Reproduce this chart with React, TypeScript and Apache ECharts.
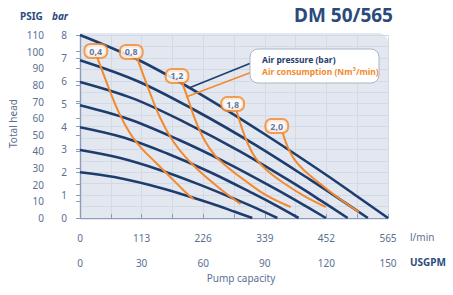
import React, { useEffect, useRef } from "react";
import * as echarts from "echarts";

const NAVY = "#1e3d6f";
const ORANGE = "#f28a2e";
const LABEL = "#5b6f93";
const AXIS = "#8d9cb8";

// Air pressure curves (bar) : [l/min, bar]
const p8: number[][] = [[0, 8], [113, 6.84], [226, 5.34], [339, 3.66], [452, 1.88], [508, 0.95], [565, 0]];
const p7: number[][] = [[0, 6.9], [106, 5.98], [211, 4.71], [317, 3.26], [422, 1.68], [475, 0.85], [528, 0]];
const p6: number[][] = [[0, 5.95], [98, 5.22], [196, 4.14], [295, 2.89], [393, 1.5], [442, 0.76], [491, 0]];
const p5: number[][] = [[0, 4.93], [90, 4.32], [180, 3.43], [271, 2.39], [361, 1.24], [406, 0.63], [451, 0]];
const p4: number[][] = [[0, 3.97], [80, 3.52], [160, 2.82], [241, 1.98], [321, 1.03], [361, 0.53], [401, 0]];
const p3: number[][] = [[0, 2.97], [72, 2.63], [145, 2.11], [217, 1.48], [290, 0.77], [326, 0.4], [362, 0]];
const p2: number[][] = [[0, 2.0], [63, 1.79], [126, 1.45], [190, 1.02], [253, 0.54], [284, 0.27], [316, 0]];
const pressureCurves = [p8, p7, p6, p5, p4, p3, p2];

// Air consumption curves (Nm3/min) : [l/min, bar]
const c04: number[][] = [[31.3, 7.04], [44.2, 6.21], [57.1, 5.42], [69.9, 4.68], [82.8, 4.07], [97.5, 3.5], [115.9, 2.97], [138, 2.45], [165.6, 1.79], [193.2, 1.14], [208, 0.83]];
const c08: number[][] = [[104.9, 6.99], [125.1, 5.68], [147.2, 4.37], [169.3, 3.41], [193.2, 2.67], [220.8, 2.01], [257.6, 1.27], [294.5, 0.61]];
const c12: number[][] = [[187.7, 5.9], [198.8, 5.16], [211.6, 4.28], [228.2, 3.41], [248.4, 2.71], [272.4, 2.19], [303.7, 1.62], [340.5, 1.01], [386.5, 0.48]];
const c18: number[][] = [[287.1, 4.68], [296.3, 3.98], [307.3, 3.28], [322.1, 2.62], [342.3, 2.1], [373.6, 1.53], [414.1, 0.92], [450.9, 0.48]];
const c20: number[][] = [[371.8, 3.72], [381, 3.1], [393.8, 2.54], [410.3, 2.1], [434.3, 1.62], [469.2, 0.96], [511.6, 0.26]];
const consumptionCurves = [c04, c08, c12, c18, c20];

const consumptionNames = ["0,4", "0,8", "1,2", "1,8", "2,0"];
const consumptionLabelPos: number[][] = [[29, 7.3], [94, 7.26], [178, 6.21], [280, 4.98], [361, 4.02]];

const lpmMax = 565;
const lpmStep = 56.5;
const gpmMax = 150;
const gpmStep = 15;
const barMax = 8;
const psigMax = 110;

const FONT = "'Noto Sans', 'Open Sans', sans-serif";

export default function App() {
  const ref = useRef<HTMLDivElement>(null);
  useEffect(() => {
    if (!ref.current) return;
    const chart = echarts.init(ref.current, undefined, { renderer: "svg" });
    const series: any[] = [];
    pressureCurves.forEach((d) => {
      series.push({
        type: "line",
        data: d,
        smooth: 0.35,
        showSymbol: false,
        symbol: "none",
        lineStyle: { color: NAVY, width: 2.6 },
        z: 3,
      });
    });
    consumptionCurves.forEach((d) => {
      series.push({
        type: "line",
        data: d,
        smooth: 0.4,
        showSymbol: false,
        symbol: "none",
        lineStyle: { color: ORANGE, width: 2 },
        z: 4,
      });
    });
    series.push({
      type: "scatter",
      symbolSize: 0,
      z: 6,
      data: consumptionLabelPos.map((p, i) => ({ value: p, name: consumptionNames[i] })),
      label: {
        show: true,
        position: "inside",
        formatter: (p: any) => p.name,
        color: "#3a5686",
        fontWeight: "bold",
        fontSize: 9,
        fontFamily: FONT,
        backgroundColor: "#ffffff",
        borderColor: ORANGE,
        borderWidth: 2,
        borderRadius: 5,
        padding: [2, 4, 1, 4],
      },
    });

    const option: any = {
      animation: false,
      grid: { left: 80, right: 65, top: 35, bottom: 77, containLabel: false },
      graphic: [
        {
          type: "rect",
          z: -1,
          shape: { x: 80, y: 33, width: 308, height: 187, r: [0, 9, 0, 0] },
          style: { fill: "#e3e7ef" },
        },
        {
          type: "text",
          left: 294,
          top: 5,
          style: { text: "DM 50/565", fill: "#2b4a7c", font: `bold 19px ${FONT}` },
        },
        {
          type: "text",
          x: 20,
          y: 11,
          style: { text: "PSIG", fill: "#2b4a7c", font: `bold 10px ${FONT}` },
        },
        {
          type: "text",
          x: 52,
          y: 11,
          style: { text: "bar", fill: "#2b4a7c", font: `italic bold 10px ${FONT}` },
        },
        {
          type: "text",
          x: 8,
          y: 148,
          rotation: Math.PI / 2,
          style: { text: "Total head", fill: LABEL, font: `10px ${FONT}` },
        },
        {
          type: "text",
          x: 410,
          y: 232,
          style: { text: "l/min", fill: LABEL, font: `10px ${FONT}` },
        },
        {
          type: "text",
          x: 410,
          y: 257,
          style: { text: "USGPM", fill: "#2b4a7c", font: `bold 10px ${FONT}` },
        },
        {
          type: "text",
          x: 241,
          y: 273,
          style: { text: "Pump capacity", fill: LABEL, font: `10px ${FONT}`, textAlign: "center" },
        },
        {
          type: "line",
          z: 5,
          shape: { x1: 256, y1: 61, x2: 189, y2: 88 },
          style: { stroke: NAVY, lineWidth: 1.5 },
        },
        {
          type: "line",
          z: 5,
          shape: { x1: 252, y1: 72, x2: 186, y2: 97 },
          style: { stroke: ORANGE, lineWidth: 1.5 },
        },
        {
          type: "rect",
          z: 6,
          shape: { x: 250, y: 49, width: 129, height: 34, r: 8 },
          style: { fill: "#ffffff", stroke: "#aab6ca", lineWidth: 1 },
        },
        {
          type: "text",
          z: 7,
          x: 262,
          y: 55,
          style: { text: "Air pressure (bar)", fill: NAVY, font: `bold 8.5px ${FONT}` },
        },
        {
          type: "text",
          z: 7,
          x: 262,
          y: 66,
          style: {
            text: "{a|Air consumption (Nm}{s|3}{a|/min)}",
            rich: {
              a: { fill: ORANGE, font: `bold 8.5px ${FONT}` },
              s: { fill: ORANGE, font: `bold 6px ${FONT}`, verticalAlign: "top", padding: [0, 0, 4, 0] },
            },
          },
        },
      ],
      xAxis: [
        {
          type: "value",
          position: "bottom",
          offset: 9,
          min: 0,
          max: lpmMax,
          interval: lpmStep,
          axisLine: { show: true, lineStyle: { color: AXIS, width: 1.2 } },
          axisTick: { show: true, inside: true, length: 4, lineStyle: { color: AXIS } },
          axisLabel: {
            color: LABEL,
            fontSize: 10,
            fontFamily: FONT,
            margin: 6,
            formatter: (v: number) => (Math.round(v / lpmStep) % 2 === 0 ? String(Math.round(v)) : ""),
          },
          splitLine: { show: true, lineStyle: { color: "#d4dae5", width: 1 } },
        },
        {
          type: "value",
          position: "bottom",
          offset: 34,
          min: 0,
          max: gpmMax,
          interval: gpmStep,
          axisLine: { show: true, lineStyle: { color: AXIS, width: 1.2 } },
          axisTick: { show: true, inside: true, length: 4, lineStyle: { color: AXIS } },
          axisLabel: {
            color: LABEL,
            fontSize: 10,
            fontFamily: FONT,
            margin: 6,
            formatter: (v: number) => (Math.round(v / gpmStep) % 2 === 0 ? String(Math.round(v)) : ""),
          },
          splitLine: { show: false },
        },
      ],
      yAxis: [
        {
          type: "value",
          position: "left",
          offset: 8,
          min: 0,
          max: barMax,
          interval: 1,
          axisLine: { show: true, lineStyle: { color: AXIS, width: 1.2 } },
          axisTick: { show: true, length: 4, lineStyle: { color: AXIS } },
          axisLabel: { color: LABEL, fontSize: 10, fontFamily: FONT, margin: 5 },
          splitLine: { show: true, lineStyle: { color: "#d4dae5", width: 1 } },
          minorTick: { show: false, splitNumber: 2 },
          minorSplitLine: { show: true, lineStyle: { color: "#d4dae5", width: 1 } },
        },
        {
          type: "value",
          position: "left",
          offset: 31,
          min: 0,
          max: psigMax,
          interval: 10,
          axisLine: { show: true, lineStyle: { color: AXIS, width: 1.2 } },
          axisTick: { show: true, length: 4, lineStyle: { color: AXIS } },
          axisLabel: { color: LABEL, fontSize: 10, fontFamily: FONT, margin: 5 },
          splitLine: { show: false },
        },
      ],
      series,
    };
    chart.setOption(option);
    return () => chart.dispose();
  }, []);
  return (
    <div
      ref={ref}
      style={{ position: "fixed", left: 0, top: 0, width: 453, height: 295, background: "#ffffff" }}
    />
  );
}
